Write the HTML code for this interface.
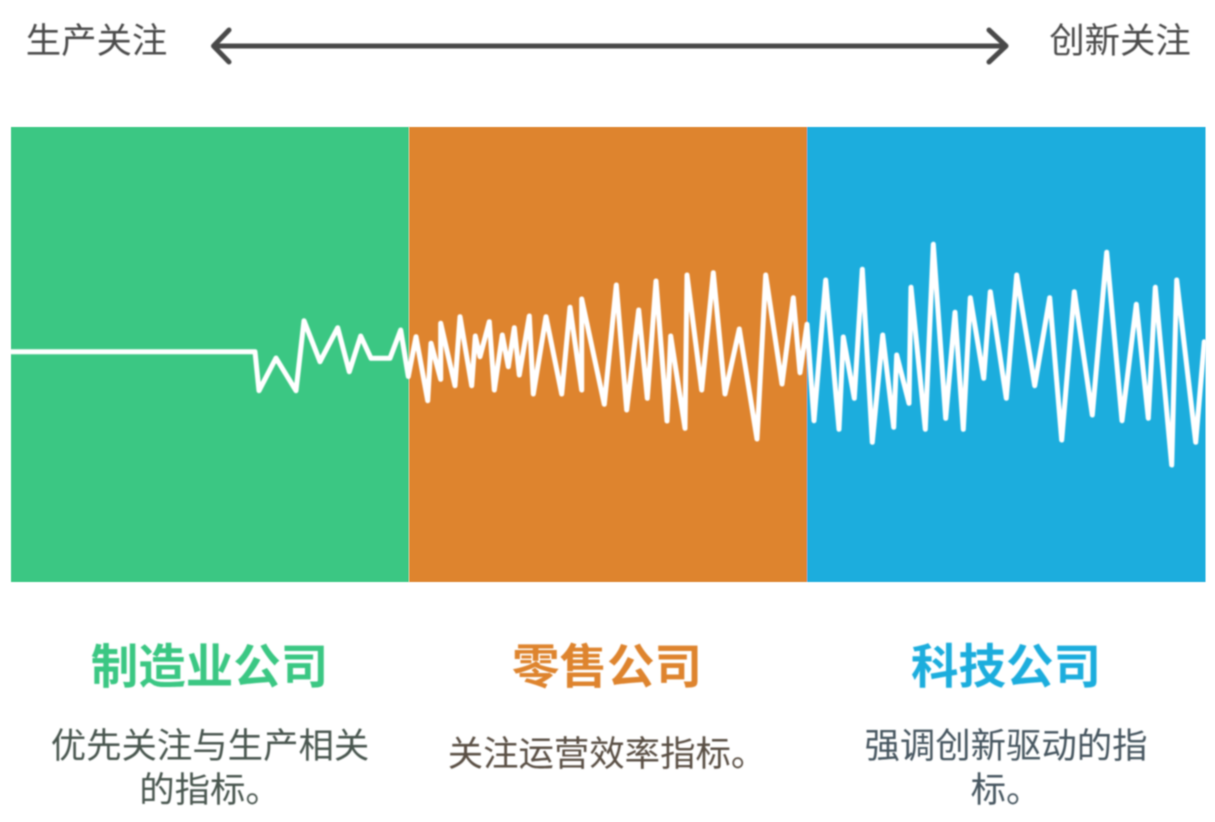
<!DOCTYPE html>
<html lang="zh">
<head>
<meta charset="utf-8">
<style>
html,body{margin:0;padding:0;background:#fff;width:1215px;height:822px;overflow:hidden}
svg{display:block}
text{font-family:"Liberation Sans","Noto Sans CJK SC",sans-serif;text-anchor:middle}
.t{fill:#4c4c4c;font-size:35.4px}
.h{font-size:47.500px;font-weight:700}
</style>
</head>
<body>
<svg width="1215" height="822" viewBox="0 0 1215 822" xmlns="http://www.w3.org/2000/svg">
<defs>
<filter id="b" x="-5%" y="-5%" width="110%" height="110%"><feGaussianBlur stdDeviation="0.7"/></filter>
<filter id="c" x="-5%" y="-5%" width="110%" height="110%"><feGaussianBlur stdDeviation="0.4"/></filter>
</defs>
<g filter="url(#c)">
<rect x="11" y="127" width="398" height="455" fill="#3bc783"/>
<rect x="409" y="127" width="398" height="455" fill="#de842e"/>
<rect x="807" y="127" width="398.500" height="455" fill="#1aaddd"/>
</g>
<line x1="409" y1="127" x2="409" y2="582" stroke="#fff" stroke-opacity="0.35" stroke-width="1"/>
<polyline filter="url(#b)" fill="none" stroke="#fff" stroke-width="5" stroke-linejoin="round" stroke-linecap="round" points="11,351.700 255,351.700 259,390.700 276,358 296,390.700 304,320.700 320,361.700 337.700,327.700 349.300,371.700 360.700,336 371,358.300 390,358.300 400.700,330 408.300,376.500 416,336.700 427.700,400.700 431,343.300 440.700,379.300 440.700,323.300 455,385.700 460,316.700 471.700,385.700 475.300,336 480,356.700 489.300,321.700 494.300,390 502.300,335 508.300,366.700 514.300,327.700 519.300,375 529.300,316 533.300,394 546,316.700 561.700,394 570,307.300 581.700,390 581.700,299 604.300,404.300 616.300,285 626.700,410 638.700,310 647.300,398.300 656,281 667,421 670.700,336 685,428.300 687,275 701.700,390 713.300,272.700 725,394 739.300,329 757,439 765.700,275 782,384 793.300,297.700 800,372.700 807,324.300 814,420.700 825.700,280 839,429.300 843.300,337 854.300,398.300 862.300,269.300 872.300,442.300 882.700,335 893.700,427.300 896.700,355 909,403.300 911,287.300 925.300,429.300 933.300,244.300 945.700,418.300 955,312.300 963.300,429.300 970.300,297.700 983.700,378.300 990.300,291.700 1006.300,398.300 1016.700,275 1034.700,385.700 1049.700,297.700 1061.700,440 1074.300,291.700 1092.300,415 1106.700,252.300 1122,420.700 1136.300,304.300 1148.300,418.300 1155.300,287.300 1171.700,465 1176.700,280 1195.700,442.300 1204.300,341.700"/>
<g filter="url(#b)">
<g fill="none" stroke="#4a4a4a" stroke-width="5" stroke-linecap="round" stroke-linejoin="round">
<line x1="215" y1="46" x2="1004" y2="46"/>
<polyline points="229,30 213.500,46 229,62"/>
<polyline points="989,30 1006,46 989,62"/>
</g>
<text class="t" x="96.500" y="53">生产关注</text>
<text class="t" x="1120" y="53">创新关注</text>
<text class="h" x="209.500" y="683.500" fill="#3bc783">制造业公司</text>
<text class="h" x="607" y="683.500" fill="#de842e">零售公司</text>
<text class="h" x="1006" y="683.500" fill="#1aaddd">科技公司</text>
<text class="t" x="210" y="758" style="fill:#48564f">优先关注与生产相关</text>
<text class="t" x="210" y="802" style="fill:#48564f">的指标。</text>
<text class="t" x="607" y="766" style="fill:#5a4f44">关注运营效率指标。</text>
<text class="t" x="1006" y="758" style="fill:#465660">强调创新驱动的指</text>
<text class="t" x="1006" y="802" style="fill:#465660">标。</text>
</g>
</svg>
</body>
</html>
